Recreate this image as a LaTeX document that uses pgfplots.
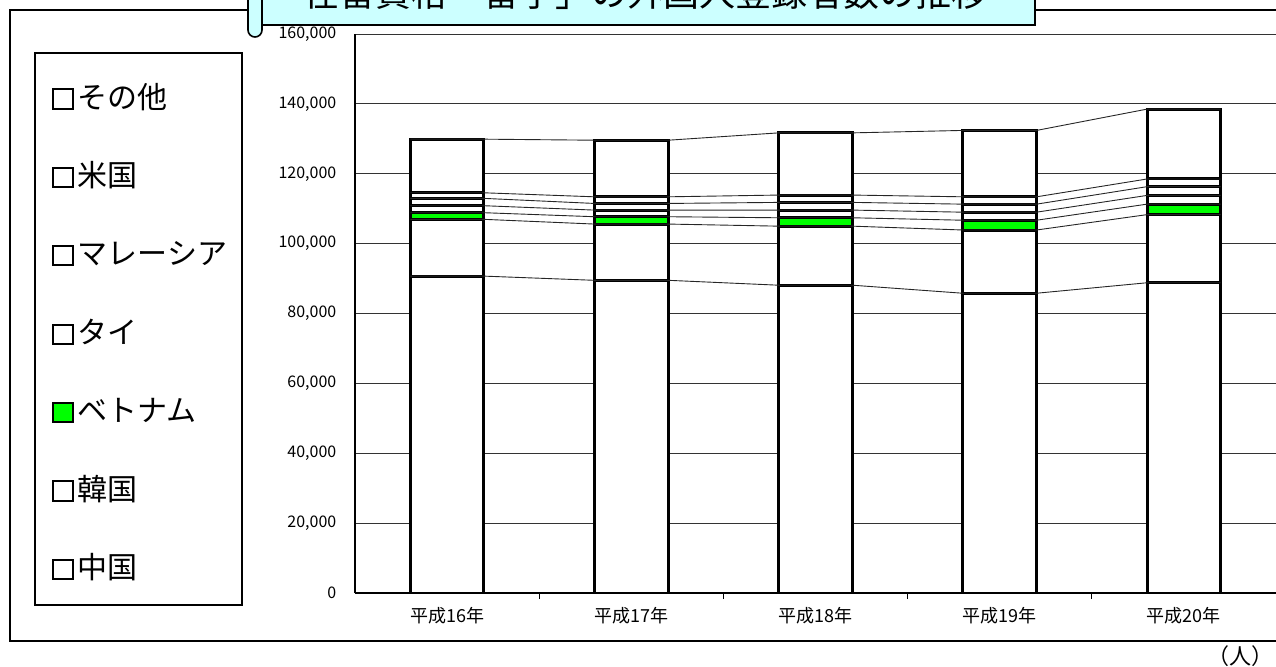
\documentclass[border=0pt]{standalone}
\usepackage{pgfplots}
\pgfplotsset{compat=1.18}
\usepackage{pgfplotstable}
\usepackage{fontspec}
\setmainfont{Noto Sans CJK JP}

\definecolor{scrollcyan}{HTML}{CCFFFF}
\definecolor{vngreen}{HTML}{00FF00}

% Registered foreign students by nationality (persons).
% Each year is listed twice: at the left and at the right edge of its bar,
% so that the series lines can run from bar edge to bar edge.
\pgfplotstableread{
x    cn     kr     vn    th    my    us    ot
-0.2 90700  16250  1900  2000  2100  1600  15350
0.2  90700  16250  1900  2000  2100  1600  15350
0.8  89500  16100  2100  1900  1900  1900  16200
1.2  89500  16100  2100  1900  1900  1900  16200
1.8  88100  16900  2400  2200  2200  2100  17800
2.2  88100  16900  2400  2200  2200  2100  17800
2.8  85800  18100  2800  2300  2300  2100  19000
3.2  85800  18100  2800  2300  2300  2100  19000
3.8  88800  19500  3000  2500  2500  2200  20000
4.2  88800  19500  3000  2500  2500  2200  20000
}\edges

\pgfplotsset{
  segbar/.style={ybar, bar shift=0pt, bar width=0.4, fill=#1, draw=black,
    line width=1.5pt, each nth point=2, filter discard warning=false,
    legend image code/.code={\draw[draw=black, line width=1pt, fill=#1]
      (0pt,-4.8pt) rectangle (9.6pt,4.8pt);}},
  conn/.style={black!85, line width=0.45pt, no marks, sharp plot, forget plot},
}

\begin{document}
\begin{tikzpicture}
\useasboundingbox (0,0) rectangle (638pt,333pt);
\clip (0,0) rectangle (638pt,333pt);
% outer chart frame and legend frame
\draw[black, line width=0.6pt] (5pt,12.5pt) rectangle (660pt,328pt);
\draw[black, line width=0.6pt, fill=white] (17.5pt,30.5pt) rectangle (121pt,306.5pt);

\begin{axis}[
  at={(177.5pt,36.5pt)}, anchor=south west,
  scale only axis, width=460.5pt, height=279.5pt,
  xmin=-0.5, xmax=4.5, ymin=0, ymax=160000,
  axis x line*=bottom, axis y line*=left,
  axis line style={black, line width=0.6pt},
  xtick={0,1,2,3,4},
  xticklabels={平成16年,平成17年,平成18年,平成19年,平成20年},
  major tick length=0pt, tick align=outside,
  extra x ticks={0.5,1.5,2.5,3.5}, extra x tick labels={},
  extra x tick style={major tick length=3pt, tick style={black, line width=0.5pt}},
  ytick={0,20000,...,160000},
  ymajorgrids, grid style={black!80, line width=0.5pt},
  scaled y ticks=false,
  /pgf/number format/assume math mode=true,
  yticklabel style={/pgf/number format/fixed, /pgf/number format/1000 sep={,},
    font=\fontsize{8pt}{9pt}\selectfont, anchor=east, xshift=-5.8pt},
  xticklabel style={font=\fontsize{9pt}{10pt}\selectfont, yshift=-3.5pt},
  legend cell align=left,
  legend style={draw=none, fill=none, at={(-0.329,0.9076)}, anchor=north west,
    inner sep=0pt, row sep=26.2pt,
    nodes={font=\fontsize{15pt}{15pt}\selectfont, inner xsep=2pt, inner ysep=0pt,
      text height=11pt, text depth=2pt}},
]
% bars: each drawn from zero to the top of its series, tallest first
\addplot[segbar=white] table[x expr=\thisrow{x}+0.2,
  y expr=\thisrow{cn}+\thisrow{kr}+\thisrow{vn}+\thisrow{th}+\thisrow{my}+\thisrow{us}+\thisrow{ot}] {\edges};
\addlegendentry{その他}
\addplot[segbar=white] table[x expr=\thisrow{x}+0.2,
  y expr=\thisrow{cn}+\thisrow{kr}+\thisrow{vn}+\thisrow{th}+\thisrow{my}+\thisrow{us}] {\edges};
\addlegendentry{米国}
\addplot[segbar=white] table[x expr=\thisrow{x}+0.2,
  y expr=\thisrow{cn}+\thisrow{kr}+\thisrow{vn}+\thisrow{th}+\thisrow{my}] {\edges};
\addlegendentry{マレーシア}
\addplot[segbar=white] table[x expr=\thisrow{x}+0.2,
  y expr=\thisrow{cn}+\thisrow{kr}+\thisrow{vn}+\thisrow{th}] {\edges};
\addlegendentry{タイ}
\addplot[segbar=vngreen] table[x expr=\thisrow{x}+0.2,
  y expr=\thisrow{cn}+\thisrow{kr}+\thisrow{vn}] {\edges};
\addlegendentry{ベトナム}
\addplot[segbar=white] table[x expr=\thisrow{x}+0.2,
  y expr=\thisrow{cn}+\thisrow{kr}] {\edges};
\addlegendentry{韓国}
\addplot[segbar=white] table[x expr=\thisrow{x}+0.2, y=cn] {\edges};
\addlegendentry{中国}

% series lines joining the segment tops from bar to bar
\addplot[conn] table[x=x, y=cn] {\edges};
\addplot[conn] table[x=x, y expr=\thisrow{cn}+\thisrow{kr}] {\edges};
\addplot[conn] table[x=x, y expr=\thisrow{cn}+\thisrow{kr}+\thisrow{vn}] {\edges};
\addplot[conn] table[x=x, y expr=\thisrow{cn}+\thisrow{kr}+\thisrow{vn}+\thisrow{th}] {\edges};
\addplot[conn] table[x=x, y expr=\thisrow{cn}+\thisrow{kr}+\thisrow{vn}+\thisrow{th}+\thisrow{my}] {\edges};
\addplot[conn] table[x=x, y expr=\thisrow{cn}+\thisrow{kr}+\thisrow{vn}+\thisrow{th}+\thisrow{my}+\thisrow{us}] {\edges};
\addplot[conn] table[x=x, y expr=\thisrow{cn}+\thisrow{kr}+\thisrow{vn}+\thisrow{th}+\thisrow{my}+\thisrow{us}+\thisrow{ot}] {\edges};
\end{axis}

% title scroll banner
\draw[black, line width=0.8pt, fill=scrollcyan] (127.5pt,320.5pt) rectangle (517.5pt,360pt);
\draw[black, line width=0.8pt, fill=scrollcyan, rounded corners=3.5pt] (124pt,314.5pt) rectangle (131pt,345pt);
\node[font=\fontsize{18pt}{18pt}\selectfont] at (322.5pt,336.5pt) {在留資格「留学」の外国人登録者数の推移};
% unit note
\node[font=\fontsize{11pt}{11pt}\selectfont, anchor=east, inner sep=0pt] at (637pt,5pt) {（人）};
\end{tikzpicture}
\end{document}
